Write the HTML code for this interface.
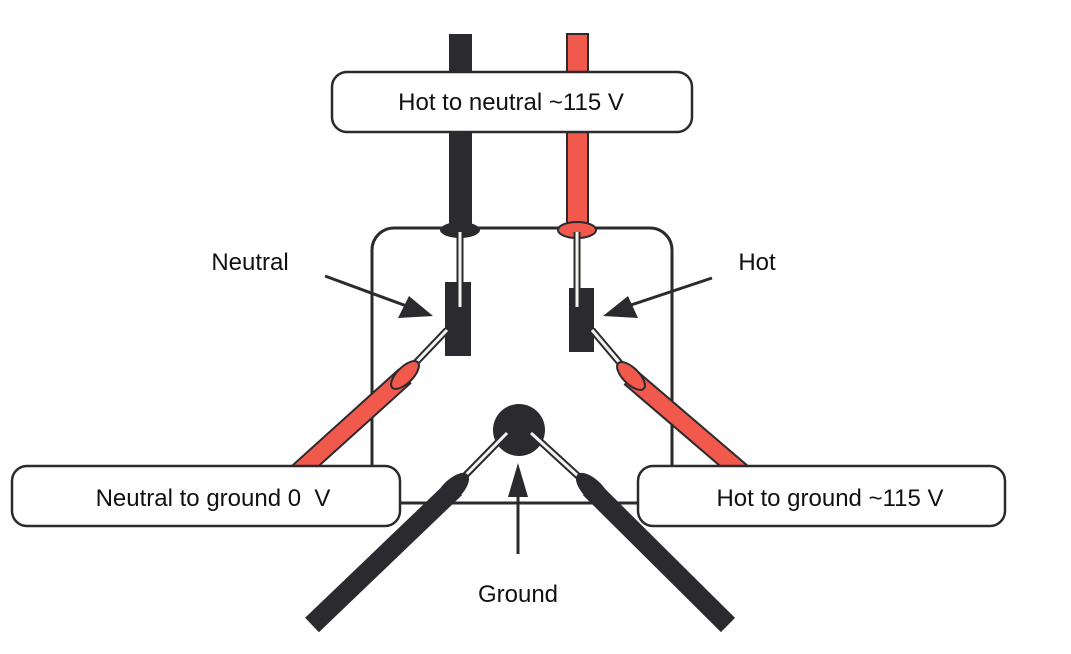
<!DOCTYPE html>
<html><head><meta charset="utf-8"><style>
html,body{margin:0;padding:0;background:#fff;}
svg{display:block;}
text{font-family:"Liberation Sans",sans-serif;font-size:24px;fill:#111;}
</style></head><body>
<svg width="1071" height="654" viewBox="0 0 1071 654" xmlns="http://www.w3.org/2000/svg">
<!-- top probes -->
<rect x="449" y="34" width="23" height="200" fill="#2b2b2f"/>
<rect x="567" y="34" width="21" height="200" fill="#f0594c" stroke="#2b2b2f" stroke-width="2"/>
<!-- outlet box -->
<rect x="372" y="228" width="300" height="275" rx="22" fill="none" stroke="#2b2b2f" stroke-width="3"/>
<ellipse cx="460" cy="230" rx="20" ry="8" fill="#2b2b2f"/>
<ellipse cx="577" cy="230" rx="19" ry="8" fill="#f0594c" stroke="#2b2b2f" stroke-width="2"/>
<!-- slots -->
<rect x="445" y="282" width="26" height="74" fill="#2b2b2f"/>
<rect x="569" y="288" width="25" height="64" fill="#2b2b2f"/>
<line x1="460" y1="232" x2="460" y2="307" stroke="#2b2b2f" stroke-width="7"/>
<line x1="460" y1="232" x2="460" y2="307" stroke="#f4f4ee" stroke-width="3"/>
<line x1="577" y1="232" x2="577" y2="307" stroke="#2b2b2f" stroke-width="7"/>
<line x1="577" y1="232" x2="577" y2="307" stroke="#f4f4ee" stroke-width="3"/>
<!-- side red probes -->
<line x1="405" y1="376" x2="292" y2="478" stroke="#2b2b2f" stroke-width="20"/>
<line x1="405" y1="376" x2="292" y2="478" stroke="#f0594c" stroke-width="16"/>
<line x1="447" y1="330" x2="405" y2="374" stroke="#2b2b2f" stroke-width="7"/>
<line x1="447" y1="330" x2="405" y2="374" stroke="#f4f4ee" stroke-width="3"/>
<ellipse cx="405" cy="375" rx="18" ry="8" transform="rotate(-45 405 375)" fill="#f0594c" stroke="#2b2b2f" stroke-width="2"/>
<line x1="630" y1="377" x2="748" y2="478" stroke="#2b2b2f" stroke-width="20"/>
<line x1="630" y1="377" x2="748" y2="478" stroke="#f0594c" stroke-width="16"/>
<line x1="592" y1="330" x2="630" y2="375" stroke="#2b2b2f" stroke-width="7"/>
<line x1="592" y1="330" x2="630" y2="375" stroke="#f4f4ee" stroke-width="3"/>
<ellipse cx="631" cy="376" rx="18" ry="8" transform="rotate(45 631 376)" fill="#f0594c" stroke="#2b2b2f" stroke-width="2"/>
<!-- ground -->
<circle cx="519" cy="430" r="26" fill="#2b2b2f"/>
<line x1="507" y1="433" x2="454" y2="487" stroke="#2b2b2f" stroke-width="7"/>
<line x1="507" y1="433" x2="454" y2="487" stroke="#f4f4ee" stroke-width="3"/>
<line x1="531" y1="433" x2="590" y2="487" stroke="#2b2b2f" stroke-width="7"/>
<line x1="531" y1="433" x2="590" y2="487" stroke="#f4f4ee" stroke-width="3"/>
<line x1="455" y1="488" x2="312" y2="625" stroke="#2b2b2f" stroke-width="20"/>
<line x1="590" y1="488" x2="728" y2="625" stroke="#2b2b2f" stroke-width="20"/>
<ellipse cx="452" cy="490" rx="22" ry="10" transform="rotate(-45 452 490)" fill="#2b2b2f"/>
<ellipse cx="593" cy="490" rx="22" ry="10" transform="rotate(45 593 490)" fill="#2b2b2f"/>
<!-- arrows -->
<line x1="325" y1="276" x2="412" y2="308" stroke="#2b2b2f" stroke-width="3"/>
<polygon points="433,316 398,318 409,296" fill="#2b2b2f"/>
<line x1="712" y1="278" x2="622" y2="308" stroke="#2b2b2f" stroke-width="3"/>
<polygon points="603,316 638,318 628,296" fill="#2b2b2f"/>
<line x1="518" y1="554" x2="518" y2="490" stroke="#2b2b2f" stroke-width="3"/>
<polygon points="518,463 508,497 528,497" fill="#2b2b2f"/>
<!-- label boxes -->
<rect x="332" y="72" width="360" height="60" rx="15" fill="#fff" stroke="#2b2b2f" stroke-width="2.5"/>
<rect x="12" y="466" width="388" height="60" rx="15" fill="#fff" stroke="#2b2b2f" stroke-width="2.5"/>
<rect x="638" y="466" width="367" height="60" rx="15" fill="#fff" stroke="#2b2b2f" stroke-width="2.5"/>
<text x="511" y="110" text-anchor="middle">Hot to neutral ~115 V</text>
<text x="213" y="506" text-anchor="middle">Neutral to ground 0&#160; V</text>
<text x="830" y="506" text-anchor="middle">Hot to ground ~115 V</text>
<text x="250" y="270" text-anchor="middle">Neutral</text>
<text x="757" y="270" text-anchor="middle">Hot</text>
<text x="518" y="602" text-anchor="middle">Ground</text>
</svg>
</body></html>
